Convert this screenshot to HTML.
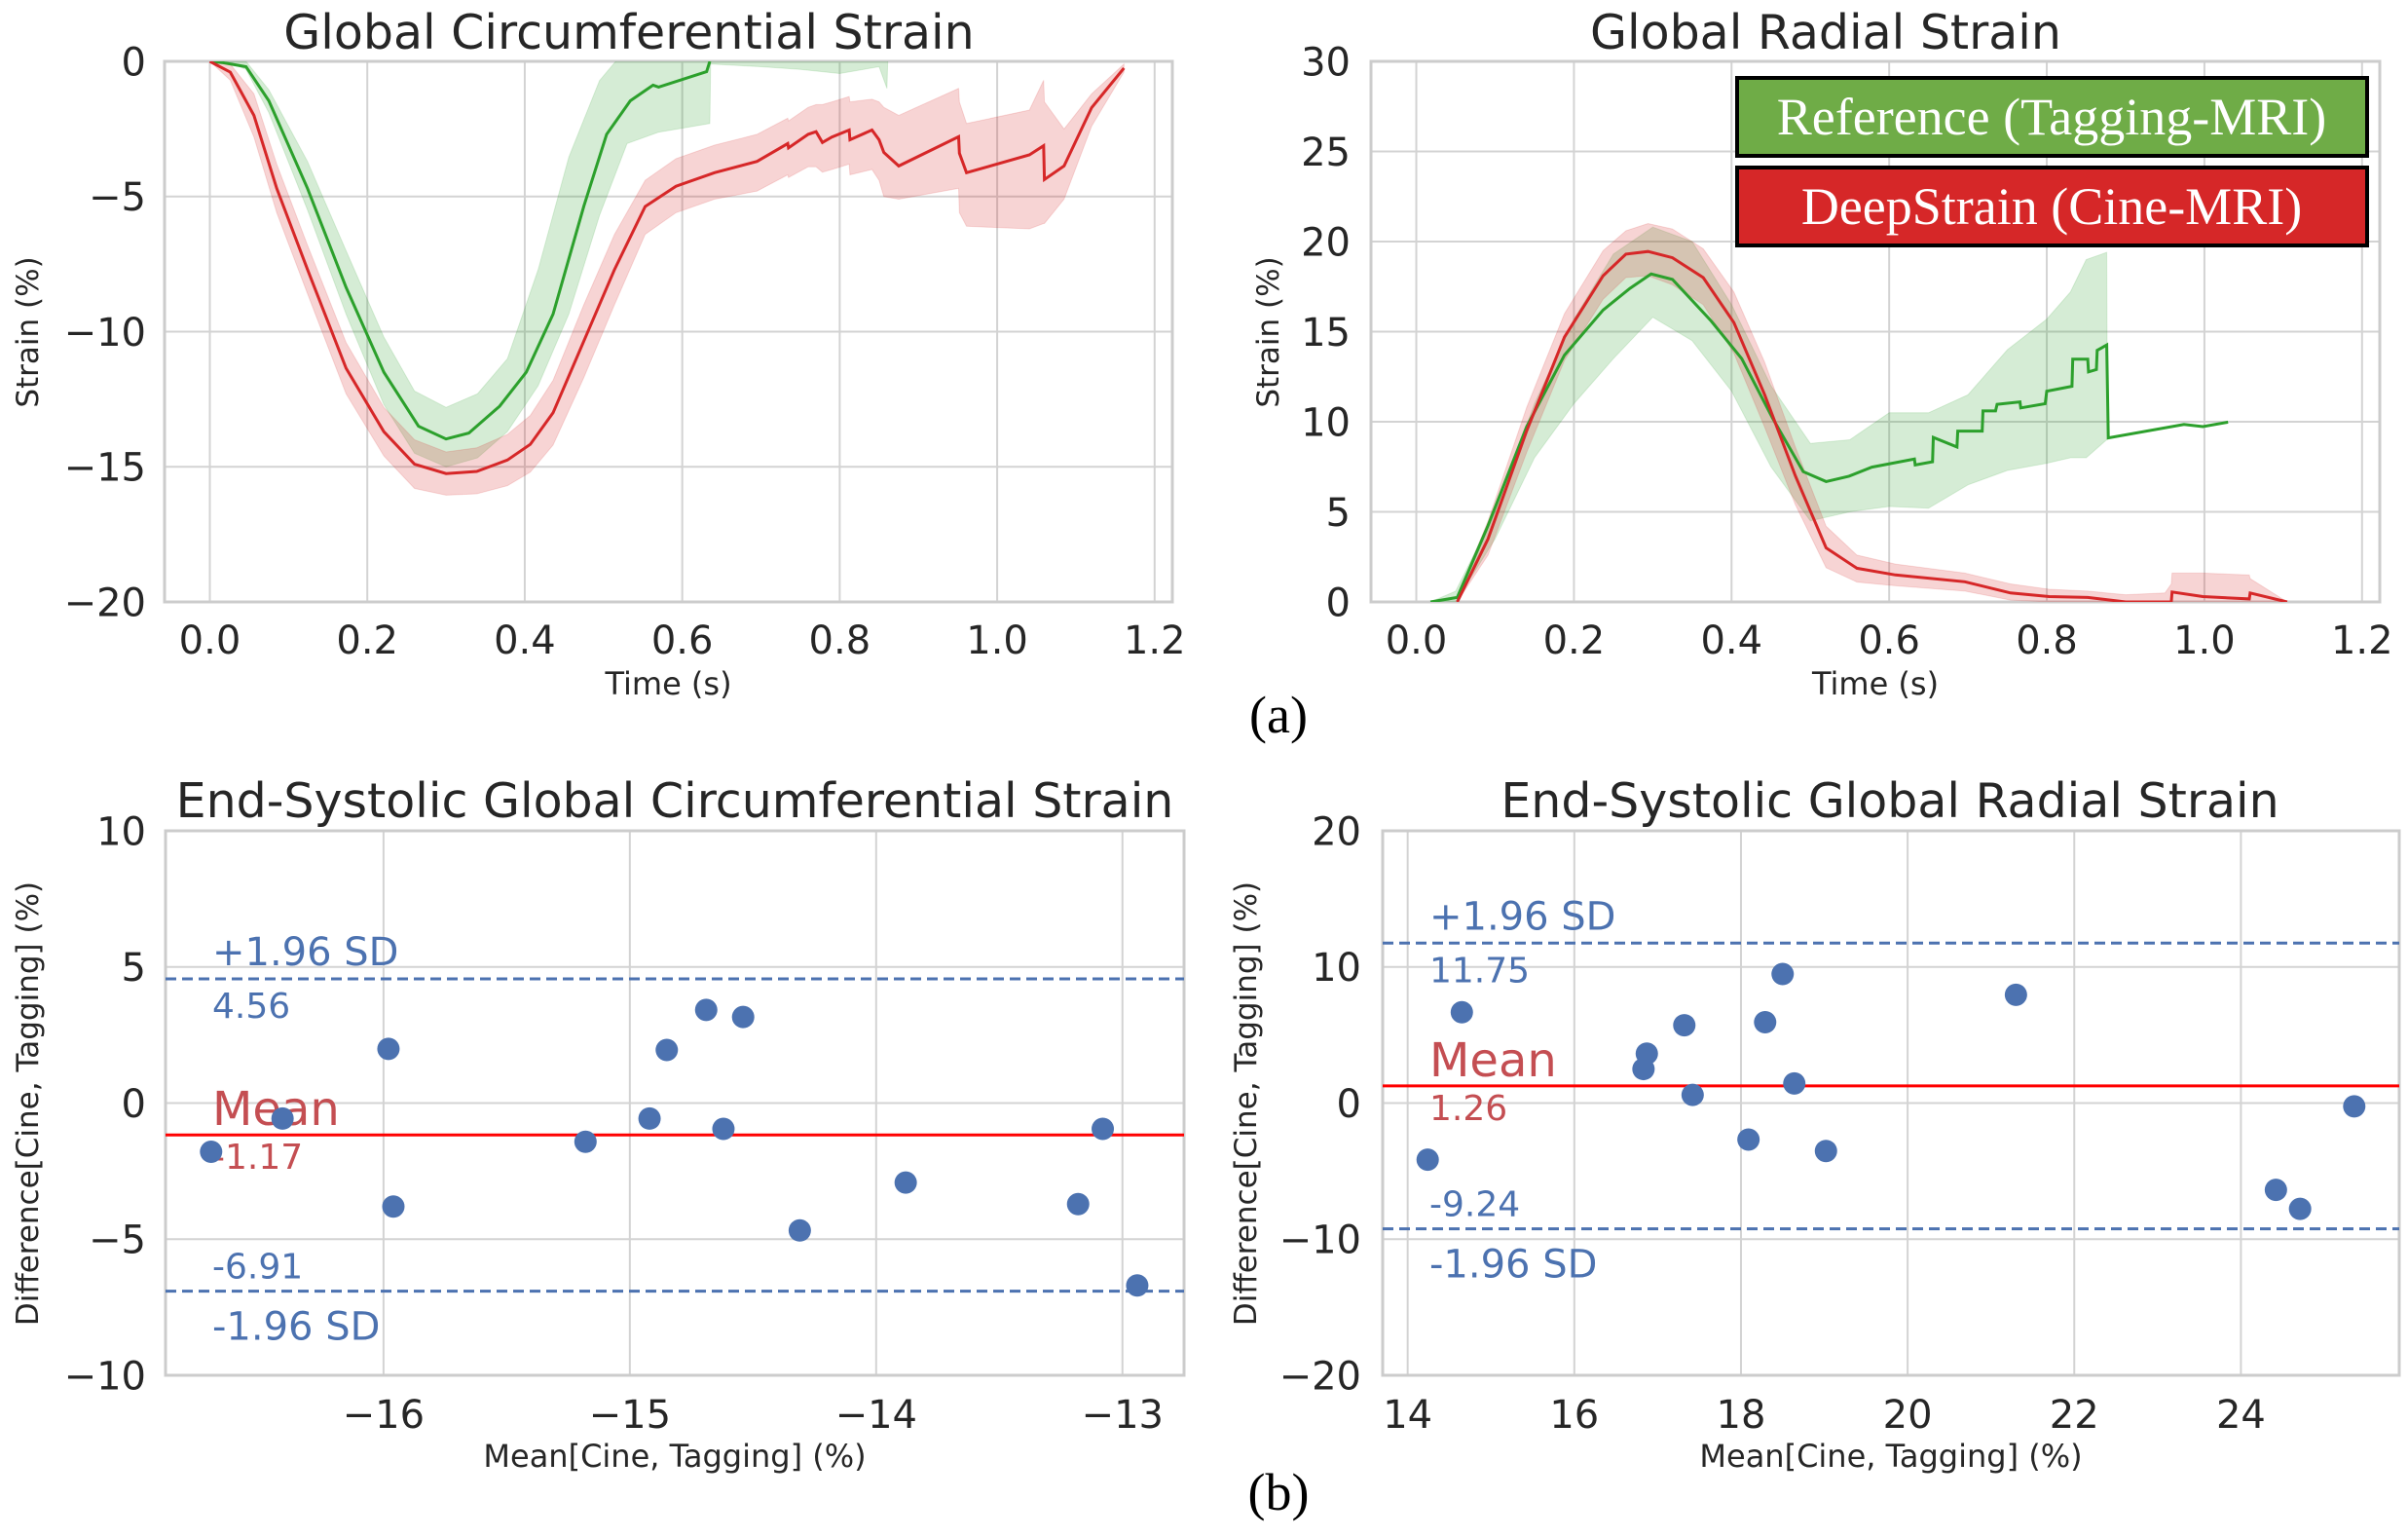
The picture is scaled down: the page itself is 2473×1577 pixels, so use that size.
<!DOCTYPE html>
<html><head><meta charset="utf-8"><style>
html,body{margin:0;padding:0;background:#fff;}
svg{display:block;font-family:"DejaVu Sans","Liberation Sans",sans-serif;}
</style></head><body>
<svg id="fig" width="2473" height="1577" viewBox="0 0 2473 1577" xmlns="http://www.w3.org/2000/svg">
<rect width="2473" height="1577" fill="#fff"/>
<text x="1313" y="752" font-family="Liberation Serif, serif" font-size="54" text-anchor="middle" fill="#000">(a)</text>
<text x="1313" y="1550" font-family="Liberation Serif, serif" font-size="54" text-anchor="middle" fill="#000">(b)</text>
</svg>
<script>
// ---- Top-left: Global Circumferential Strain ----
const gcsGreenT    = [0,0.017,0.046,0.075,0.124,0.173,0.221,0.265,0.30,0.329,0.368,0.402,0.436,0.475,0.504,0.534,0.563,0.57,0.631,0.635];
const gcsGreenMean = [0,-0.05,-0.2,-1.46,-4.7,-8.36,-11.5,-13.5,-13.97,-13.75,-12.76,-11.5,-9.35,-5.36,-2.7,-1.46,-0.88,-0.95,-0.38,0];
const gcsGreenBandT  = [0.02,0.046,0.075,0.124,0.173,0.221,0.26,0.30,0.34,0.378,0.417,0.456,0.495,0.53,0.57,0.635,0.636,0.7,0.75,0.8,0.85,0.86,0.861];
const gcsGreenBandHi = [0,0,-1.05,-3.7,-7.0,-10.2,-12.2,-12.8,-12.3,-11.0,-7.7,-3.54,-0.71,0.5,0.5,0.5,0.5,0.5,0.5,0.5,0.5,0.5,0.5];
const gcsGreenBandLo = [0,-0.3,-1.9,-5.5,-9.35,-12.7,-14.5,-15.0,-14.67,-13.7,-12.0,-9.35,-5.7,-3.04,-2.62,-2.3,-0.1,-0.2,-0.3,-0.45,-0.2,-1.0,0];
const gcsRedT    = [0,0.026,0.056,0.085,0.124,0.173,0.221,0.26,0.30,0.339,0.378,0.407,0.436,0.475,0.514,0.553,0.592,0.641,0.695,0.734,0.735,0.76,0.77,0.778,0.79,0.812,0.813,0.841,0.85,0.856,0.875,0.951,0.952,0.961,1.041,1.059,1.06,1.085,1.12,1.161];
const gcsRedMean = [0,-0.4,-2.0,-4.7,-7.7,-11.35,-13.7,-14.9,-15.25,-15.17,-14.75,-14.17,-13.0,-10.35,-7.7,-5.37,-4.62,-4.12,-3.7,-3.04,-3.2,-2.7,-2.6,-3.0,-2.8,-2.54,-2.9,-2.54,-2.9,-3.37,-3.87,-2.79,-3.4,-4.12,-3.46,-3.12,-4.37,-3.87,-1.71,-0.25];
const gcsRedHi   = [0,-0.1,-1.2,-3.8,-6.8,-10.4,-12.8,-14.0,-14.45,-14.3,-13.8,-13.1,-11.8,-9.0,-6.4,-4.4,-3.6,-3.1,-2.7,-2.1,-2.2,-1.7,-1.6,-1.6,-1.5,-1.3,-1.5,-1.4,-1.5,-1.7,-2.0,-1.0,-1.5,-2.3,-1.8,-0.7,-1.5,-2.5,-1.2,-0.1];
const gcsRedLo   = [0,-0.7,-2.8,-5.6,-8.6,-12.3,-14.6,-15.8,-16.05,-16.0,-15.7,-15.2,-14.2,-11.7,-9.0,-6.4,-5.6,-5.1,-4.8,-4.2,-4.3,-3.9,-3.9,-4.1,-4.0,-3.8,-4.2,-4.0,-4.4,-5.0,-5.1,-4.7,-5.6,-6.1,-6.2,-6.0,-6.0,-5.1,-2.4,-0.4];
const gcsXTicks = [0.0,0.2,0.4,0.6,0.8,1.0,1.2];
const gcsYTicks = [0,-5,-10,-15,-20];
// ---- Top-right: Global Radial Strain ----
const grsGreenT    = [0.018,0.052,0.091,0.14,0.188,0.237,0.271,0.298,0.325,0.374,0.413,0.452,0.491,0.52,0.549,0.578,0.632,0.633,0.655,0.656,0.686,0.687,0.718,0.719,0.735,0.737,0.766,0.767,0.798,0.80,0.832,0.833,0.852,0.853,0.863,0.864,0.876,0.878,0.974,0.998,1.03];
const grsGreenMean = [0,0.25,4.24,9.73,13.7,16.2,17.4,18.2,17.9,15.6,13.5,10.2,7.23,6.68,6.98,7.48,7.93,7.6,7.78,9.13,8.6,9.48,9.48,10.6,10.6,10.97,11.1,10.77,11.0,11.7,11.97,13.47,13.47,12.77,12.9,13.96,14.26,9.1,9.85,9.73,9.98];
const grsGreenBandT  = [0.018,0.05,0.1,0.15,0.2,0.25,0.3,0.35,0.4,0.45,0.5,0.55,0.6,0.65,0.7,0.75,0.8,0.83,0.85,0.876,0.877];
const grsGreenBandHi = [0,0.6,5.0,11.0,15.7,19.3,20.8,20.0,16.5,12.0,8.8,9.0,10.5,10.5,11.5,14.0,15.7,17.2,19.0,19.4,9.1];
const grsGreenBandLo = [0,0,3.5,8.0,11.0,13.5,15.8,14.5,11.7,7.5,4.5,5.0,5.3,5.2,6.5,7.3,7.7,8.0,8.0,9.0,9.1];
const grsRedT    = [0.052,0.091,0.14,0.188,0.237,0.266,0.294,0.325,0.364,0.403,0.442,0.481,0.52,0.559,0.608,0.696,0.754,0.803,0.852,0.9,0.95,0.958,0.959,0.998,1.057,1.058,1.105];
const grsRedMean = [0,3.5,9.5,14.7,18.1,19.3,19.45,19.1,18.0,15.5,11.5,7.0,3.0,1.87,1.5,1.12,0.5,0.3,0.25,0,0,0,0.55,0.3,0.17,0.5,0];
const grsRedHi   = [0.3,4.5,10.8,16.0,19.5,20.6,21.0,20.7,19.6,17.2,13.3,8.6,4.2,2.6,2.1,1.6,1.0,0.7,0.6,0.4,0.5,1.0,1.6,1.6,1.5,1.3,0];
const grsRedLo   = [0,2.6,8.3,13.4,16.8,18.0,18.1,17.6,16.5,13.8,9.7,5.4,1.9,1.1,0.9,0.6,0.1,0,0,0,0,0,0,0,0,0,0];
const grsXTicks = [0.0,0.2,0.4,0.6,0.8,1.0,1.2];
const grsYTicks = [0,5,10,15,20,25,30];
// ---- Bottom-left: Bland-Altman GCS ----
const baCircX = [-16.70,-16.41,-15.98,-15.96,-15.18,-14.92,-14.85,-14.69,-14.62,-14.54,-14.31,-13.88,-13.18,-13.08,-12.94];
const baCircY = [-1.79,-0.57,1.99,-3.80,-1.42,-0.57,1.95,3.42,-0.95,3.16,-4.68,-2.92,-3.71,-0.95,-6.70];
const baCircStats = [4.56,-1.17,-6.91];
const baCircXTicks = [-16,-15,-14,-13];
const baCircYTicks = [10,5,0,-5,-10];
// ---- Bottom-right: Bland-Altman GRS ----
const baRadX = [14.24,14.65,16.83,16.87,17.32,17.42,18.09,18.29,18.50,18.64,19.02,21.30,24.42,24.71,25.36];
const baRadY = [-4.16,6.67,2.50,3.63,5.72,0.60,-2.68,5.94,9.48,1.44,-3.52,7.95,-6.38,-7.77,-0.24];
const baRadStats = [11.75,1.26,-9.24];
const baRadXTicks = [14,16,18,20,22,24];
const baRadYTicks = [20,10,0,-10,-20];

const NS = "http://www.w3.org/2000/svg";
const svg = document.getElementById('fig');
const TXT = "#262626";
function mk(tag, attrs, parent){
  const e = document.createElementNS(NS, tag);
  for (const k in attrs) e.setAttribute(k, attrs[k]);
  (parent||svg).appendChild(e);
  return e;
}
function fmtTick(v, dec){
  const s = dec ? v.toFixed(dec) : String(v);
  return s.replace('-', '\u2212');
}
function makeAxes(o){
  const g = mk('g', {});
  
  
  const sx = v => o.L + (v - o.x0) / (o.x1 - o.x0) * (o.R - o.L);
  const sy = v => o.B - (v - o.y0) / (o.y1 - o.y0) * (o.B - o.T);
  const id = 'clip-' + o.name;
  const cp = mk('clipPath', {id: id}, g);
  mk('rect', {x: o.L, y: o.T, width: o.R - o.L, height: o.B - o.T}, cp);
  o.xTicks.forEach(v => {
    const gl = mk('line', {x1: sx(v), x2: sx(v), y1: o.T, y2: o.B, stroke: '#d3d3d3', 'stroke-width': 2}, g);
    
    
    const t = mk('text', {x: sx(v), y: o.xTickY, 'font-size': o.tickFs, 'text-anchor': 'middle', fill: TXT}, g);
    
    
    t.textContent = fmtTick(v, o.xDec);
  });
  o.yTicks.forEach(v => {
    const gl = mk('line', {x1: o.L, x2: o.R, y1: sy(v), y2: sy(v), stroke: '#d3d3d3', 'stroke-width': 2}, g);
    
    
    const t = mk('text', {x: o.yTickX, y: sy(v) + o.tickFs * 0.36, 'font-size': o.tickFs, 'text-anchor': 'end', fill: TXT}, g);
    
    
    t.textContent = fmtTick(v, 0);
  });
  const fr = mk('rect', {x: o.L, y: o.T, width: o.R - o.L, height: o.B - o.T, fill: 'none', stroke: '#cccccc', 'stroke-width': 3}, g);
  
  
  const ti = mk('text', {x: o.titleX, y: o.titleY, 'font-size': 49, 'text-anchor': 'middle', fill: TXT}, g);
  
  
  ti.textContent = o.title;
  const xl = mk('text', {x: (o.L + o.R) / 2, y: o.xLabY, 'font-size': 32, 'text-anchor': 'middle', fill: TXT}, g);
  
  
  xl.textContent = o.xLabel;
  const yl = mk('text', {x: 0, y: 0, 'font-size': 31, 'text-anchor': 'middle', fill: TXT, transform: `translate(${o.yLabX},${o.yLabY}) rotate(-90)`}, g);
  
  
  yl.textContent = o.yLabel;
  const plot = mk('g', {'clip-path': `url(#${id})`}, g);
  return {sx, sy, plot, g};
}
function linePath(ax, xs, ys){
  return xs.map((x, i) => (i ? 'L' : 'M') + ax.sx(x).toFixed(1) + ',' + ax.sy(ys[i]).toFixed(1)).join(' ');
}
function bandPath(ax, xs, lo, hi){
  let d = xs.map((x, i) => (i ? 'L' : 'M') + ax.sx(x).toFixed(1) + ',' + ax.sy(hi[i]).toFixed(1)).join(' ');
  for (let i = xs.length - 1; i >= 0; i--) d += ' L' + ax.sx(xs[i]).toFixed(1) + ',' + ax.sy(lo[i]).toFixed(1);
  return d + ' Z';
}

// Top-left
const a1 = makeAxes({name: 'gcs-chart', L: 169, R: 1204, T: 63, B: 618, x0: -0.0575, x1: 1.2225, y0: -20, y1: 0,
  xTicks: gcsXTicks, yTicks: gcsYTicks, xDec: 1, tickFs: 40, xTickY: 671, yTickX: 150,
  title: 'Global Circumferential Strain', titleX: 646, titleY: 50, xLabel: 'Time (s)', xLabY: 713,
  yLabel: 'Strain (%)', yLabX: 39, yLabY: 341});
let e;
e = mk('path', {d: bandPath(a1, gcsGreenBandT, gcsGreenBandLo, gcsGreenBandHi), fill: '#2ca02c', 'fill-opacity': 0.2, stroke: '#2ca02c', 'stroke-opacity': 0.15}, a1.plot);
 
e = mk('path', {d: bandPath(a1, gcsRedT, gcsRedLo, gcsRedHi), fill: '#d62728', 'fill-opacity': 0.2, stroke: '#d62728', 'stroke-opacity': 0.15}, a1.plot);
 
e = mk('path', {d: linePath(a1, gcsGreenT, gcsGreenMean), fill: 'none', stroke: '#2ca02c', 'stroke-width': 3}, a1.plot);
 
e = mk('path', {d: linePath(a1, gcsRedT, gcsRedMean), fill: 'none', stroke: '#d62728', 'stroke-width': 3}, a1.plot);
 

// Top-right
const a2 = makeAxes({name: 'grs-chart', L: 1408, R: 2444, T: 63, B: 618, x0: -0.0575, x1: 1.2225, y0: 0, y1: 30,
  xTicks: grsXTicks, yTicks: grsYTicks, xDec: 1, tickFs: 40, xTickY: 671, yTickX: 1387,
  title: 'Global Radial Strain', titleX: 1875, titleY: 50, xLabel: 'Time (s)', xLabY: 713,
  yLabel: 'Strain (%)', yLabX: 1313, yLabY: 341});
e = mk('path', {d: bandPath(a2, grsGreenBandT, grsGreenBandLo, grsGreenBandHi), fill: '#2ca02c', 'fill-opacity': 0.2, stroke: '#2ca02c', 'stroke-opacity': 0.15}, a2.plot);
 
e = mk('path', {d: bandPath(a2, grsRedT, grsRedLo, grsRedHi), fill: '#d62728', 'fill-opacity': 0.2, stroke: '#d62728', 'stroke-opacity': 0.15}, a2.plot);
 
e = mk('path', {d: linePath(a2, grsGreenT, grsGreenMean), fill: 'none', stroke: '#2ca02c', 'stroke-width': 3}, a2.plot);
 
e = mk('path', {d: linePath(a2, grsRedT, grsRedMean), fill: 'none', stroke: '#d62728', 'stroke-width': 3}, a2.plot);
 
// legend
const lg = mk('g', {});


e = mk('rect', {x: 1784, y: 80, width: 647, height: 80, fill: '#6fac47', stroke: '#000', 'stroke-width': 4}, lg);
 
e = mk('text', {x: 2107, y: 138, 'font-size': 54, 'font-family': 'Liberation Serif, serif', fill: '#fff', 'text-anchor': 'middle'}, lg);
 
e.textContent = 'Reference (Tagging-MRI)';
e = mk('rect', {x: 1784, y: 172, width: 647, height: 80, fill: '#d62728', stroke: '#000', 'stroke-width': 4}, lg);
 
e = mk('text', {x: 2107, y: 230, 'font-size': 54, 'font-family': 'Liberation Serif, serif', fill: '#fff', 'text-anchor': 'middle'}, lg);
 
e.textContent = 'DeepStrain (Cine-MRI)';

// Bland-Altman helper
function baChart(o, xs, ys, stats, labels, names){
  const ax = makeAxes(o);
  const [up, mean, lo] = stats;
  e = mk('line', {x1: o.L, x2: o.R, y1: ax.sy(up), y2: ax.sy(up), stroke: '#4c72b0', 'stroke-width': 3, 'stroke-dasharray': '11,6'}, ax.plot);
   
  e = mk('line', {x1: o.L, x2: o.R, y1: ax.sy(lo), y2: ax.sy(lo), stroke: '#4c72b0', 'stroke-width': 3, 'stroke-dasharray': '11,6'}, ax.plot);
   
  e = mk('line', {x1: o.L, x2: o.R, y1: ax.sy(mean), y2: ax.sy(mean), stroke: '#ff0000', 'stroke-width': 3}, ax.plot);
   
  const tx = o.annX;
  const annos = [
    ['+1.96 SD', ax.sy(up) - 14, '#4c72b0', 40, 'upper-sd-label'],
    [up.toFixed(2), ax.sy(up) + 40, '#4c72b0', 36, 'upper-sd-value'],
    ['Mean', ax.sy(mean) - 10, '#c44e52', 48, 'mean-label'],
    [mean.toFixed(2), ax.sy(mean) + 35, '#c44e52', 36, 'mean-value'],
    [lo.toFixed(2), ax.sy(lo) - 13, '#4c72b0', 36, 'lower-sd-value'],
    ['-1.96 SD', ax.sy(lo) + 50, '#4c72b0', 40, 'lower-sd-label']
  ];
  annos.forEach(a => {
    const t = mk('text', {x: tx, y: a[1], fill: a[2], 'font-size': a[3]}, ax.g);
    
    
    t.textContent = a[0];
  });
  xs.forEach((x, i) => {
    const c = mk('circle', {cx: ax.sx(x), cy: ax.sy(ys[i]), r: 11.5, fill: '#4c72b0'}, ax.g);
    
    
  });
}
baChart({name: 'ba-gcs-chart', L: 170, R: 1216, T: 853, B: 1412, x0: -16.885, x1: -12.75, y0: -10, y1: 10,
  xTicks: baCircXTicks, yTicks: baCircYTicks, xDec: 0, tickFs: 40, xTickY: 1466, yTickX: 150,
  title: 'End-Systolic Global Circumferential Strain', titleX: 693, titleY: 839, xLabel: 'Mean[Cine, Tagging] (%)', xLabY: 1506,
  yLabel: 'Difference[Cine, Tagging] (%)', yLabX: 39, yLabY: 1133, annX: 218}, baCircX, baCircY, baCircStats, null, 'ba-gcs');
baChart({name: 'ba-grs-chart', L: 1420, R: 2464, T: 853, B: 1412, x0: 13.7, x1: 25.9, y0: -20, y1: 20,
  xTicks: baRadXTicks, yTicks: baRadYTicks, xDec: 0, tickFs: 40, xTickY: 1466, yTickX: 1398,
  title: 'End-Systolic Global Radial Strain', titleX: 1941, titleY: 839, xLabel: 'Mean[Cine, Tagging] (%)', xLabY: 1506,
  yLabel: 'Difference[Cine, Tagging] (%)', yLabX: 1290, yLabY: 1133, annX: 1468}, baRadX, baRadY, baRadStats, null, 'ba-grs');
</script>
</body></html>
